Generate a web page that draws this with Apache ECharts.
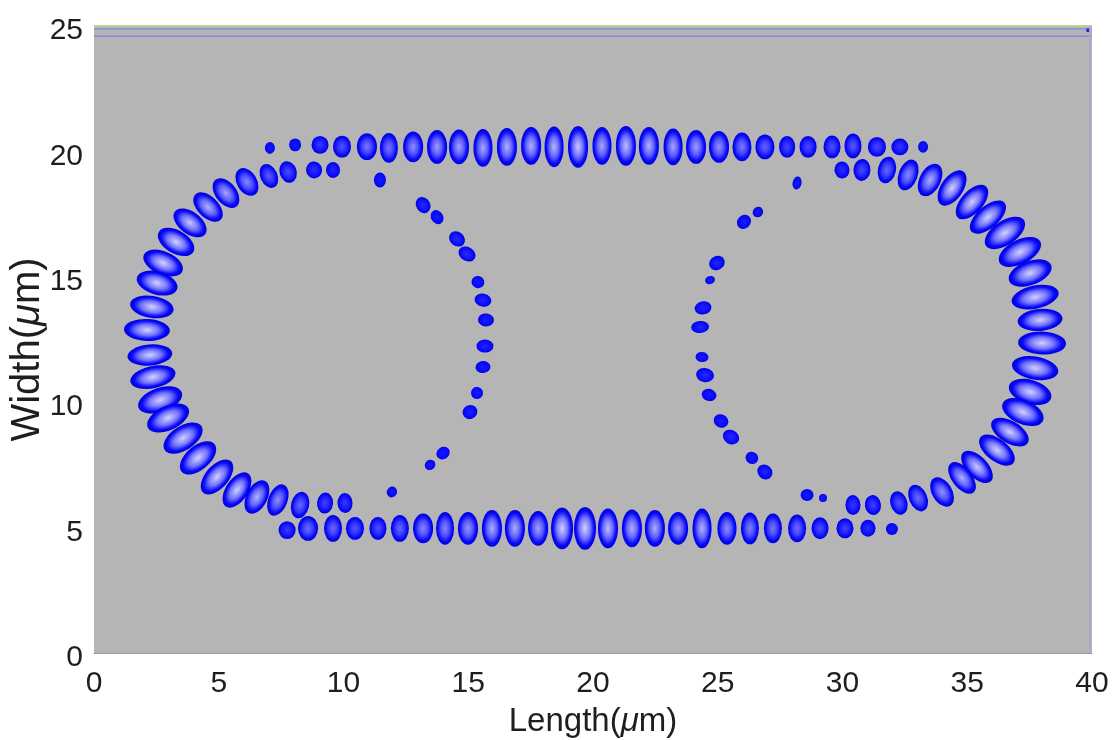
<!DOCTYPE html>
<html>
<head>
<meta charset="utf-8">
<script src="https://cdn.jsdelivr.net/npm/echarts@6/dist/echarts.min.js"></script>
<style>
  html, body { margin: 0; padding: 0; background: #ffffff; }
  #chart { width: 1113px; height: 740px; }
</style>
</head>
<body>
<div id="chart"></div>
<script>
// Field-intensity spots of the racetrack mode, in micrometres.
// Each row: [x, y, radial axis length, tangential axis length, radial angle (deg)]
const topRow = [
  [9.06, 20.26, 0.72, 0.68, 90], [9.94, 20.19, 0.88, 0.72, 90], [10.94, 20.19, 1.08, 0.80, 90],
  [11.82, 20.14, 1.20, 0.72, 90], [12.79, 20.18, 1.24, 0.80, 90], [13.75, 20.18, 1.36, 0.80, 90],
  [14.63, 20.18, 1.40, 0.80, 90], [15.59, 20.14, 1.52, 0.76, 90], [16.55, 20.18, 1.52, 0.80, 90],
  [17.52, 20.22, 1.52, 0.80, 90], [18.44, 20.18, 1.64, 0.76, 90], [19.40, 20.18, 1.68, 0.80, 90],
  [20.36, 20.22, 1.52, 0.76, 90], [21.32, 20.22, 1.60, 0.80, 90], [22.24, 20.22, 1.52, 0.80, 90],
  [23.21, 20.18, 1.48, 0.76, 90], [24.13, 20.18, 1.36, 0.80, 90], [25.05, 20.18, 1.28, 0.80, 90],
  [25.97, 20.18, 1.16, 0.76, 90], [26.89, 20.18, 1.00, 0.76, 90], [27.78, 20.18, 0.88, 0.64, 90],
  [28.62, 20.18, 0.88, 0.68, 90], [29.58, 20.18, 0.92, 0.68, 90], [30.42, 20.22, 1.00, 0.68, 90],
  [31.38, 20.18, 0.80, 0.72, 90], [32.30, 20.18, 0.68, 0.68, 90]
];

const bottomRow = [
  [7.74, 4.90, 0.72, 0.68, 90], [8.58, 4.97, 1.00, 0.80, 90], [9.58, 4.97, 1.08, 0.72, 90],
  [10.46, 4.97, 0.92, 0.72, 90], [11.38, 4.97, 0.92, 0.68, 90], [12.26, 4.97, 1.08, 0.72, 90],
  [13.19, 4.97, 1.20, 0.80, 90], [14.07, 4.97, 1.32, 0.72, 90], [14.99, 4.97, 1.32, 0.80, 90],
  [15.95, 4.97, 1.48, 0.80, 90], [16.87, 4.97, 1.48, 0.80, 90], [17.80, 4.97, 1.40, 0.80, 90],
  [18.76, 4.97, 1.68, 0.88, 90], [19.68, 4.97, 1.72, 0.88, 90], [20.60, 4.97, 1.60, 0.80, 90],
  [21.56, 4.97, 1.52, 0.80, 90], [22.48, 4.97, 1.48, 0.80, 90], [23.41, 4.97, 1.32, 0.80, 90],
  [24.37, 4.97, 1.60, 0.76, 90], [25.37, 4.97, 1.32, 0.76, 90], [26.29, 4.97, 1.28, 0.72, 90],
  [27.21, 4.97, 1.20, 0.72, 90], [28.18, 4.97, 1.12, 0.72, 90], [29.10, 4.97, 0.88, 0.68, 90],
  [30.10, 4.97, 0.80, 0.68, 90], [31.02, 4.97, 0.68, 0.60, 90], [31.98, 4.94, 0.48, 0.48, 90]
];

const leftBend = [
  [9.58, 19.26, 0.64, 0.56, 92], [8.82, 19.26, 0.68, 0.64, 99], [7.78, 19.18, 0.88, 0.68, 108],
  [7.01, 19.02, 1.00, 0.68, 114], [6.13, 18.78, 1.20, 0.80, 121], [5.29, 18.34, 1.36, 0.84, 128],
  [4.57, 17.78, 1.44, 0.84, 135], [3.85, 17.15, 1.52, 0.88, 143], [3.29, 16.39, 1.60, 0.92, 150],
  [2.77, 15.55, 1.68, 0.92, 157], [2.53, 14.75, 1.68, 0.92, 164], [2.32, 13.80, 1.76, 0.88, 171],
  [2.12, 12.88, 1.84, 0.88, 178], [2.24, 11.88, 1.80, 0.84, 185], [2.36, 11.00, 1.84, 0.88, 192],
  [2.65, 10.09, 1.84, 0.96, 199], [2.97, 9.37, 1.80, 0.96, 205], [3.57, 8.57, 1.76, 0.96, 213],
  [4.17, 7.78, 1.72, 0.96, 220], [4.93, 7.02, 1.68, 0.92, 229], [5.73, 6.50, 1.60, 0.88, 236],
  [6.53, 6.22, 1.44, 0.84, 243], [7.37, 6.10, 1.32, 0.76, 249], [8.26, 5.90, 1.08, 0.72, 257],
  [9.26, 5.98, 0.84, 0.64, 265], [10.06, 5.98, 0.80, 0.60, 272]
];

const rightBend = [
  [29.98, 19.26, 0.68, 0.60, 93], [30.78, 19.26, 0.88, 0.68, 86], [31.78, 19.26, 1.08, 0.72, 78],
  [32.63, 19.06, 1.28, 0.76, 70], [33.51, 18.86, 1.40, 0.84, 63], [34.39, 18.54, 1.60, 0.88, 56],
  [35.19, 17.98, 1.68, 0.88, 48], [35.83, 17.38, 1.76, 0.88, 41], [36.51, 16.75, 1.84, 0.96, 34],
  [37.11, 15.99, 1.84, 0.96, 27], [37.52, 15.15, 1.80, 0.96, 20], [37.72, 14.19, 1.92, 0.92, 12],
  [37.92, 13.28, 1.80, 0.88, 5], [38.00, 12.36, 1.92, 0.92, -2], [37.72, 11.36, 1.88, 0.92, -10],
  [37.52, 10.41, 1.76, 0.96, -17], [37.23, 9.61, 1.76, 0.96, -23], [36.71, 8.81, 1.68, 0.88, -31],
  [36.19, 8.09, 1.68, 0.88, -38], [35.39, 7.42, 1.60, 0.84, -46], [34.79, 6.98, 1.48, 0.80, -52],
  [33.99, 6.42, 1.28, 0.80, -59], [33.03, 6.18, 1.12, 0.72, -67], [32.26, 5.98, 0.96, 0.68, -74],
  [31.22, 5.90, 0.80, 0.64, -82], [30.42, 5.90, 0.80, 0.60, -89]
];

const leftInnerArc = [
  [11.46, 18.86, 0.60, 0.48, 90], [13.19, 17.86, 0.68, 0.56, 120], [13.75, 17.38, 0.60, 0.48, 120],
  [14.55, 16.51, 0.68, 0.56, 140], [14.95, 15.91, 0.72, 0.56, 150], [15.39, 14.79, 0.52, 0.48, 165],
  [15.59, 14.07, 0.68, 0.52, 170], [15.71, 13.28, 0.64, 0.52, 175], [15.67, 12.24, 0.68, 0.52, 180],
  [15.59, 11.40, 0.60, 0.48, 185], [15.35, 10.37, 0.48, 0.48, 195], [15.07, 9.61, 0.60, 0.56, 200],
  [13.99, 7.97, 0.56, 0.48, 215], [13.47, 7.50, 0.44, 0.40, 220], [11.94, 6.42, 0.44, 0.40, 240]
];

const rightInnerArc = [
  [28.18, 18.74, 0.52, 0.36, 80], [26.61, 17.58, 0.44, 0.40, 45], [26.05, 17.19, 0.60, 0.52, 45],
  [24.97, 15.55, 0.64, 0.56, 25], [24.69, 14.87, 0.40, 0.32, 20], [24.41, 13.76, 0.68, 0.52, 10],
  [24.29, 13.00, 0.72, 0.48, 5], [24.37, 11.80, 0.52, 0.40, -5], [24.49, 11.08, 0.72, 0.56, -10],
  [24.65, 10.29, 0.60, 0.48, -15], [25.13, 9.25, 0.60, 0.52, -25], [25.53, 8.61, 0.68, 0.56, -30],
  [26.37, 7.78, 0.52, 0.48, -40], [26.89, 7.22, 0.64, 0.56, -45], [28.58, 6.30, 0.52, 0.48, 0],
  [29.22, 6.18, 0.32, 0.32, 0]
];

const strayBlobs = [
  [7.05, 20.14, 0.48, 0.40, 90], [8.06, 20.26, 0.52, 0.48, 90], [33.23, 20.18, 0.48, 0.40, 90],
  [39.84, 24.84, 0.16, 0.16, 0]
];

// Boundary artefacts along the top and right edges of the simulation window
const edgeBlueY = [24.88, 24.60];
const edgeGreenY = 25.0;
const edgeRightX = 39.93;

const xTicks = { min: 0, max: 40, step: 5 };
const yTicks = { min: 0, max: 25, step: 5 };

const FONT = '"Liberation Sans", Arial, Helvetica, sans-serif';

function spotFill(len, wid) {
  const area = len * wid;
  const t = Math.max(0, Math.min(1, (area - 0.3) / 1.1));
  const c = Math.round(25 + t * 185);
  const m = Math.round(c * 0.55);
  return {
    type: 'radial', x: 0.5, y: 0.5, r: 0.5,
    colorStops: [
      { offset: 0, color: 'rgb(' + c + ',' + c + ',255)' },
      { offset: 0.5, color: 'rgb(' + m + ',' + m + ',255)' },
      { offset: 0.82, color: 'rgb(8,8,250)' },
      { offset: 1, color: 'rgb(0,0,218)' }
    ]
  };
}

function renderSpot(params, api) {
  const p = api.coord([api.value(0), api.value(1)]);
  const unit = api.size([1, 1]);
  const rx = api.value(2) * unit[0] / 2;
  const ry = api.value(3) * unit[1] / 2;
  return {
    type: 'circle',
    x: p[0], y: p[1],
    rotation: api.value(4) * Math.PI / 180,
    scaleX: rx / ry,
    shape: { cx: 0, cy: 0, r: ry },
    style: { fill: spotFill(api.value(2), api.value(3)) }
  };
}

function spotSeries(name, data) {
  return {
    name: name, type: 'custom', renderItem: renderSpot,
    encode: { x: 0, y: 1 }, data: data, silent: true, animation: false
  };
}

function edgeLine(name, pts, color, width) {
  return {
    name: name, type: 'line', data: pts, symbol: 'none', silent: true, animation: false,
    lineStyle: { color: color, width: width }, z: 5
  };
}

const chart = echarts.init(document.getElementById('chart'), null, { renderer: 'canvas' });

chart.setOption({
  backgroundColor: '#ffffff',
  animation: false,
  grid: {
    left: 94, right: 21, top: 26, bottom: 87,
    show: true, backgroundColor: '#b5b5b5', borderWidth: 0,
    containLabel: false, outerBoundsMode: 'none'
  },
  xAxis: {
    type: 'value', min: xTicks.min, max: xTicks.max, interval: xTicks.step,
    name: '{n|Length(}{i|μ}{n|m)}', nameLocation: 'middle', nameGap: 52, nameMoveOverlap: false,
    nameTextStyle: {
      rich: {
        n: { fontFamily: FONT, fontSize: 33, color: '#1e1e1e' },
        i: { fontFamily: FONT, fontSize: 33, fontStyle: 'italic', color: '#1e1e1e' }
      }
    },
    axisLine: { show: true, lineStyle: { color: '#9c9c9c', width: 1 } },
    axisTick: { show: false },
    splitLine: { show: false },
    axisLabel: { fontFamily: FONT, fontSize: 30, color: '#1e1e1e', margin: 16 }
  },
  yAxis: {
    type: 'value', min: yTicks.min, max: yTicks.max, interval: yTicks.step,
    name: '{n|Width(}{i|μ}{n|m)}', nameLocation: 'middle', nameGap: 46, nameRotate: 90,
    nameMoveOverlap: false,
    nameTextStyle: {
      padding: [0, 20, 0, 0],
      rich: {
        n: { fontFamily: FONT, fontSize: 40, color: '#1e1e1e' },
        i: { fontFamily: FONT, fontSize: 40, fontStyle: 'italic', color: '#1e1e1e' }
      }
    },
    axisLine: { show: false },
    axisTick: { show: false },
    splitLine: { show: false },
    axisLabel: {
      fontFamily: FONT, fontSize: 30, color: '#1e1e1e', margin: 11,
      verticalAlign: 'top', lineHeight: 10
    }
  },
  series: [
    edgeLine('edgeGreen', [[0, edgeGreenY], [40, edgeGreenY]], '#b4d896', 2),
    edgeLine('edgeBlue1', [[0, edgeBlueY[0]], [40, edgeBlueY[0]]], '#7a7af0', 1.2),
    edgeLine('edgeBlue2', [[0, edgeBlueY[1]], [40, edgeBlueY[1]]], '#7a7af0', 1.2),
    edgeLine('edgeRight', [[edgeRightX, 0], [edgeRightX, 25]], '#aea6cf', 2),
    spotSeries('leftInnerArc', leftInnerArc),
    spotSeries('rightInnerArc', rightInnerArc),
    spotSeries('strayBlobs', strayBlobs),
    spotSeries('leftBend', leftBend),
    spotSeries('rightBend', rightBend),
    spotSeries('topRow', topRow),
    spotSeries('bottomRow', bottomRow)
  ]
});
</script>
</body>
</html>
